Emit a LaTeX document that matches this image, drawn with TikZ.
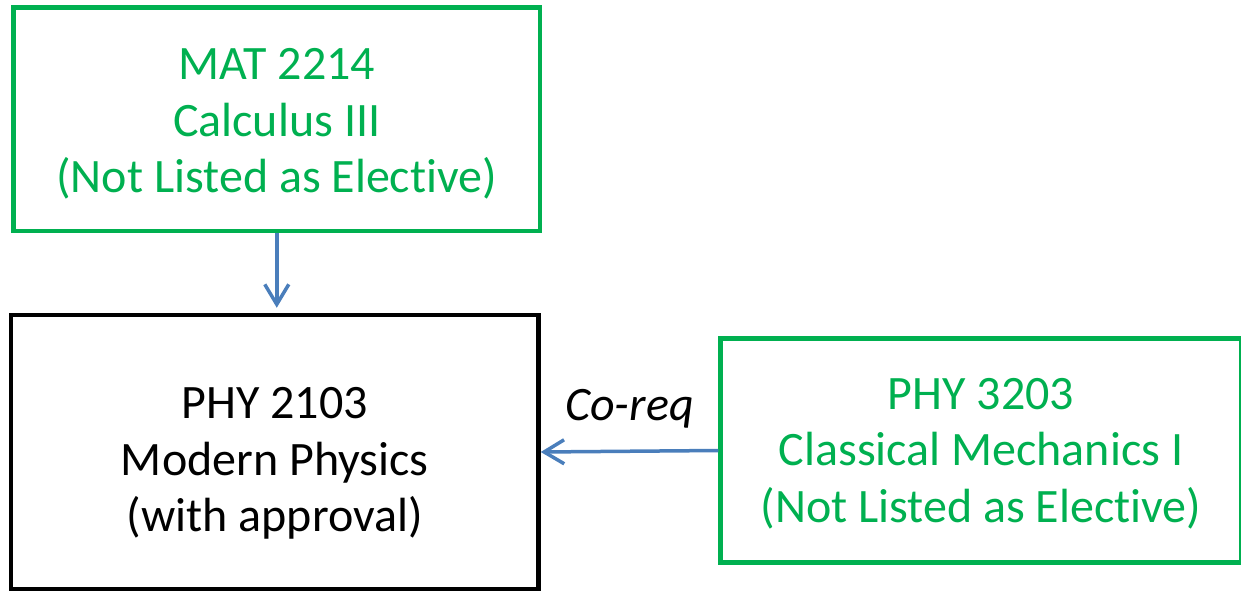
\documentclass[tikz,border=0pt]{standalone}
\usepackage{fontspec}
\setmainfont[Ligatures=NoCommon]{Carlito}
\usetikzlibrary{arrows.meta}
\definecolor{cgreen}{HTML}{00B050}
\definecolor{cblue}{HTML}{4A7EBB}
\newcommand{\lift}[1]{\rule{0pt}{#1}} % pushes the lines of a box down
\tikzset{
  course/.style={draw, line width=4.5pt, align=center, inner sep=0pt,
    font=\fontsize{48}{56.5}\selectfont},
  elective/.style={course, draw=cgreen, text=cgreen},
  prereq/.style={draw=cblue, line width=3.5pt, -{Straight Barb[length=20pt,width=24pt]}}
}
\begin{document}
\begin{tikzpicture}[x=1pt,y=-1pt]
\useasboundingbox (0,0) rectangle (1241,591);
% the three courses
\node[elective, minimum width=526.5pt, minimum height=223.5pt] (mat2214) at (276.75,119.25)
  {\lift{41pt}MAT 2214\\Calculus III\\(Not Listed as Elective)};
\node[course, minimum width=527.5pt, minimum height=274pt] (phy2103) at (274.75,452)
  {\lift{54pt}PHY 2103\\Modern Physics\\(with approval)};
\node[elective, minimum width=521pt, minimum height=224pt] (phy3203) at (981,450.5)
  {\lift{37pt}PHY 3203\\Classical Mechanics I\\(Not Listed as Elective)};
% arrows
\draw[prereq, shorten >=5pt] (mat2214.south) -- (mat2214.south |- phy2103.north);
\draw[prereq] (phy3203.west) -- node[above=21pt, inner sep=0pt, font=\fontsize{48}{56.5}\selectfont\itshape] (coreq) {Co-req} (phy2103.east);
\end{tikzpicture}
\end{document}
